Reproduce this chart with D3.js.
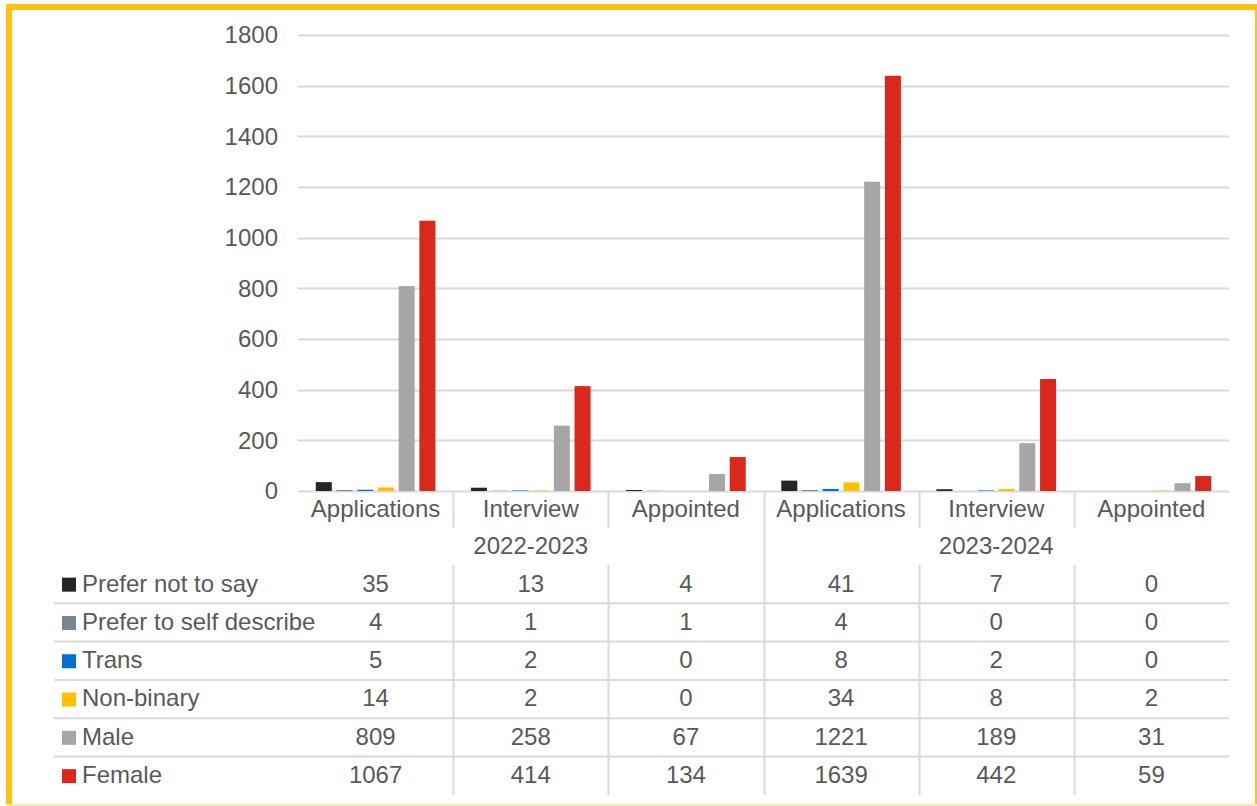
<!DOCTYPE html>
<html>
<head>
<meta charset="utf-8">
<script src="https://cdn.jsdelivr.net/npm/d3@7"></script>
<style>
  html, body { margin: 0; padding: 0; background: #ffffff; }
  svg { display: block; }
  text { font-family: "Liberation Sans", Arial, sans-serif; fill: #595959; }
</style>
</head>
<body>
<svg id="chart" width="1257" height="806"></svg>
<script>
// ---- Data ----
const years = ["2022-2023", "2023-2024"];
const stages = ["Applications", "Interview", "Appointed"];
const series = ["Prefer not to say", "Prefer to self describe", "Trans", "Non-binary", "Male", "Female"];
const seriesColors = ["#262626", "#7b868c", "#0070d0", "#ffc000", "#a7a6a4", "#da291c"];
const preferNotToSay = [35, 13, 4, 41, 7, 0];
const preferToSelfDescribe = [4, 1, 1, 4, 0, 0];
const trans = [5, 2, 0, 8, 2, 0];
const nonBinary = [14, 2, 0, 34, 8, 2];
const male = [809, 258, 67, 1221, 189, 31];
const female = [1067, 414, 134, 1639, 442, 59];
const yTicks = [0, 200, 400, 600, 800, 1000, 1200, 1400, 1600, 1800];

const seriesValues = [preferNotToSay, preferToSelfDescribe, trans, nonBinary, male, female];
const categories = [];
years.forEach(y => stages.forEach(s => categories.push({ year: y, stage: s, key: y + "|" + s })));

// ---- Layout ----
const svg = d3.select("#chart");
const plotLeft = 298, plotRight = 1229, plotTop = 35, plotBottom = 491;
const font = 24;

const x0 = d3.scaleBand().domain(categories.map(c => c.key)).range([plotLeft, plotRight]).paddingInner(0).paddingOuter(0);
const x1 = d3.scaleBand().domain(series).range([0, x0.bandwidth()]).paddingInner(0.227).paddingOuter(0.858);
const y = d3.scaleLinear().domain([0, 1800]).range([plotBottom, plotTop]);

// Border
svg.append("rect").attr("x", 6).attr("y", 4).attr("width", 1251).attr("height", 6).attr("fill", "#ffc20e");
svg.append("rect").attr("x", 6).attr("y", 4).attr("width", 6).attr("height", 802).attr("fill", "#ffc20e");
svg.append("rect").attr("x", 1255).attr("y", 4).attr("width", 2).attr("height", 802).attr("fill", "#ffc20e");
svg.append("rect").attr("x", 6).attr("y", 804).attr("width", 1251).attr("height", 2).attr("fill", "#fde9a8");

// Gridlines
svg.append("g").selectAll("line").data(yTicks).join("line")
  .attr("x1", plotLeft).attr("x2", plotRight)
  .attr("y1", d => Math.round(y(d)) + 0.5).attr("y2", d => Math.round(y(d)) + 0.5)
  .attr("stroke", "#d9d9d9").attr("stroke-width", 2);

// Y axis labels
const yAxis = d3.axisLeft(y).tickValues(yTicks).tickFormat(d3.format("d")).tickSize(0).tickPadding(20);
const yg = svg.append("g").attr("transform", `translate(${plotLeft},0)`).call(yAxis);
yg.select(".domain").remove();
yg.selectAll("text").style("font-size", font + "px").attr("fill", "#595959")
  .style("font-family", '"Liberation Sans", Arial, sans-serif');

// Bars
const gCats = svg.append("g").selectAll("g").data(categories).join("g")
  .attr("transform", d => `translate(${x0(d.key)},0)`);
gCats.selectAll("rect").data((d, i) => series.map((s, j) => ({ s, j, v: seriesValues[j][i] })))
  .join("rect")
  .attr("x", d => x1(d.s))
  .attr("width", x1.bandwidth())
  .attr("y", d => y(d.v))
  .attr("height", d => Math.max(0, y(0) - y(d.v)))
  .attr("fill", d => seriesColors[d.j]);

// Category labels
const catLabelY = 509;
svg.append("g").selectAll("text").data(categories).join("text")
  .attr("x", d => x0(d.key) + x0.bandwidth() / 2)
  .attr("y", catLabelY).attr("dy", "0.35em")
  .attr("text-anchor", "middle").style("font-size", font + "px")
  .text(d => d.stage);

// Year labels
svg.append("g").selectAll("text").data(years).join("text")
  .attr("x", yr => {
    const cs = categories.filter(c => c.year === yr);
    return (x0(cs[0].key) + x0(cs[cs.length - 1].key) + x0.bandwidth()) / 2;
  })
  .attr("y", 546).attr("dy", "0.35em")
  .attr("text-anchor", "middle").style("font-size", font + "px")
  .text(d => d);

// Vertical separators in label area
const lineColor = "#d9d9d9";
categories.forEach((c, i) => {
  if (i === 0) return;
  const xx = Math.round(x0(c.key)) + 0.5;
  const isGroup = categories[i - 1].year !== c.year;
  if (isGroup) {
    svg.append("line").attr("x1", xx).attr("x2", xx).attr("y1", plotBottom).attr("y2", 795)
      .attr("stroke", lineColor).attr("stroke-width", 2);
  } else {
    svg.append("line").attr("x1", xx).attr("x2", xx).attr("y1", plotBottom).attr("y2", 528)
      .attr("stroke", lineColor).attr("stroke-width", 2);
    svg.append("line").attr("x1", xx).attr("x2", xx).attr("y1", 565).attr("y2", 795)
      .attr("stroke", lineColor).attr("stroke-width", 2);
  }
});

// Data table
const tableTop = 565, rowH = 38.3;
const rows = svg.append("g").selectAll("g").data(series).join("g")
  .attr("transform", (d, i) => `translate(0,${tableTop + rowH * i})`);
rows.filter((d, i) => i < series.length - 1).append("line")
  .attr("x1", 54).attr("x2", plotRight).attr("y1", rowH).attr("y2", rowH)
  .attr("stroke", lineColor).attr("stroke-width", 2);
rows.append("rect").attr("x", 62).attr("y", rowH / 2 - 6.5).attr("width", 14).attr("height", 14)
  .attr("fill", (d, i) => seriesColors[i]);
rows.append("text").attr("x", 82).attr("y", rowH / 2 - 1).attr("dy", "0.35em")
  .style("font-size", font + "px").text(d => d);
rows.each(function (s, j) {
  d3.select(this).selectAll("text.v").data(categories).join("text").attr("class", "v")
    .attr("x", d => x0(d.key) + x0.bandwidth() / 2)
    .attr("y", rowH / 2 - 1).attr("dy", "0.35em")
    .attr("text-anchor", "middle").style("font-size", font + "px")
    .text((d, i) => seriesValues[j][i]);
});
</script>
</body>
</html>
